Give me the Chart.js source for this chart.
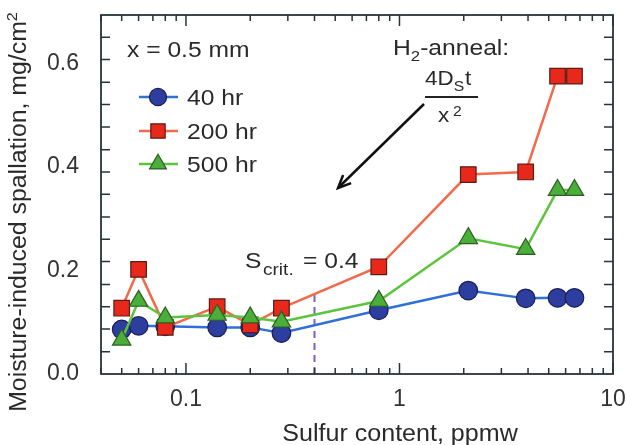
<!DOCTYPE html>
<html><head><meta charset="utf-8">
<script src="https://cdn.jsdelivr.net/npm/chart.js@4.4.0/dist/chart.umd.min.js"></script>
<style>html,body{margin:0;padding:0;background:#fff;}#wrap{width:626px;height:445px;}</style>
</head><body><div id="wrap"><canvas id="c" width="626" height="445"></canvas></div>
<script>
// ---- data ----
const sulfur   = [0.05, 0.06, 0.08, 0.14, 0.2, 0.28, 0.8, 2.1, 3.9, 5.5, 6.6];
const spall40  = [0.086, 0.093, 0.092, 0.090, 0.090, 0.079, 0.123, 0.161, 0.146, 0.147, 0.147];
const spall200 = [0.127, 0.202, 0.090, 0.130, 0.095, 0.127, 0.207, 0.385, 0.390, 0.575, 0.575];
const spall500 = [0.066, 0.141, 0.109, 0.114, 0.109, 0.101, 0.141, 0.262, 0.241, 0.355, 0.355];
const seriesNames = ['40 hr', '200 hr', '500 hr'];
const sCritX = [0.4, 0.4];
const sCritY = [0, 0.162];
const xTickValues = [0.04,0.05,0.06,0.07,0.08,0.09,0.1,0.2,0.3,0.4,0.5,0.6,0.7,0.8,0.9,1,2,3,4,5,6,7,8,9,10];
const xLabelValues = [0.1, 1, 10];
const xLabelTexts = ['0.1', '1', '10'];
const yLabelValues = [0, 0.2, 0.4, 0.6];
const yLabelTexts = ['0.0', '0.2', '0.4', '0.6'];
const yMinorTicks = [0.043,0.087,0.13,0.173,0.217,0.26,0.303,0.347,0.39,0.433,0.477,0.52,0.563,0.607,0.65];

const FONT = 'Liberation Sans, Arial, Helvetica, sans-serif';
const TXT = '#2a2a2a';
const AXC = '#26343a';

function pts(ys){ return sulfur.map((x,i)=>({x:x, y:ys[i]})); }

const styles = [
  {line:'#2f6fd6', fill:'#2d3e9e', edge:'#1a1f55', shape:'circle', r:9.3},
  {line:'#f26a4c', fill:'#e8281a', edge:'#5a1c14', shape:'rect', r:11},
  {line:'#5cc43e', fill:'#4aae38', edge:'#2c5e26', shape:'triangle', r:10.6}
];
const seriesData = [spall40, spall200, spall500];

const datasets = seriesData.map((d,i)=>({
  label: seriesNames[i], data: pts(d),
  borderColor: styles[i].line, borderWidth: 2.5,
  pointStyle: styles[i].shape, pointRadius: styles[i].r,
  pointBackgroundColor: styles[i].fill, pointBorderColor: styles[i].edge,
  pointBorderWidth: 1.2, tension: 0, order: 3 - i
}));
datasets.push({
  label: 'Scrit', data: sCritX.map((x,i)=>({x:x, y:sCritY[i]})),
  borderColor: '#7a5fd0', borderWidth: 2, borderDash: [7,5],
  pointRadius: 0, order: 5
});

function sText(ctx, text, x, y, size, sx, align){
  ctx.save();
  ctx.font = size + 'px ' + FONT;
  ctx.translate(x, y);
  ctx.scale(sx, 1);
  ctx.textAlign = align || 'left';
  ctx.fillText(text, 0, 0);
  ctx.restore();
}
function sWidth(ctx, text, size, sx){
  ctx.save(); ctx.font = size + 'px ' + FONT;
  const w = ctx.measureText(text).width * sx; ctx.restore(); return w;
}

const decor = {
  id: 'decor',
  afterDraw(chart){
    const ctx = chart.ctx, a = chart.chartArea;
    const xs = chart.scales.x, ys = chart.scales.y;
    ctx.save();
    // frame
    ctx.strokeStyle = AXC; ctx.lineWidth = 1.8;
    ctx.strokeRect(a.left, a.top, a.right - a.left, a.bottom - a.top);
    // ticks
    ctx.lineWidth = 1.5;
    ctx.beginPath();
    xTickValues.forEach(v=>{
      const p = xs.getPixelForValue(v);
      const len = xLabelValues.includes(v) ? 11 : 6;
      ctx.moveTo(p, a.bottom); ctx.lineTo(p, a.bottom - len);
      ctx.moveTo(p, a.top); ctx.lineTo(p, a.top + len);
    });
    yMinorTicks.forEach(v=>{
      const p = ys.getPixelForValue(v);
      ctx.moveTo(a.left, p); ctx.lineTo(a.left + 9, p);
      ctx.moveTo(a.right, p); ctx.lineTo(a.right - 9, p);
    });
    ctx.stroke();

    ctx.fillStyle = TXT;
    ctx.textBaseline = 'alphabetic';
    // axis titles
    sText(ctx, 'Sulfur content, ppmw', 400, 441, 23, 1.09, 'center');
    ctx.save();
    ctx.translate(26, 212); ctx.rotate(-Math.PI/2);
    const main = 'Moisture-induced spallation, mg/cm';
    const wm = sWidth(ctx, main, 23, 1.08), w2 = sWidth(ctx, '2', 15, 1.08);
    const x0 = -(wm + w2)/2;
    sText(ctx, main, x0, 0, 23, 1.08, 'left');
    sText(ctx, '2', x0 + wm, -9, 15, 1.08, 'left');
    ctx.restore();

    // x = 0.5 mm
    sText(ctx, 'x = 0.5 mm', 127, 57, 22, 1.12, 'left');
    // legend
    const rows = [97, 131, 164];
    chart.data.datasets.slice(0,3).forEach((ds,i)=>{
      const y = rows[i];
      ctx.strokeStyle = ds.borderColor; ctx.lineWidth = 2.5;
      ctx.beginPath(); ctx.moveTo(139, y); ctx.lineTo(178, y); ctx.stroke();
      ctx.fillStyle = ds.pointBackgroundColor; ctx.strokeStyle = ds.pointBorderColor;
      ctx.lineWidth = 1.2;
      Chart.helpers.drawPoint(ctx, {pointStyle: ds.pointStyle, rotation: 0,
        radius: ds.pointRadius * 0.92, borderWidth: 1.2}, 158, y);
      ctx.fillStyle = TXT;
      sText(ctx, ds.label, 187, y + 8, 22, 1.12, 'left');
    });

    // H2-anneal
    let x = 393;
    sText(ctx, 'H', x, 55, 22, 1.12); x += sWidth(ctx, 'H', 22, 1.12);
    sText(ctx, '2', x, 61, 15, 1.12); x += sWidth(ctx, '2', 15, 1.12);
    sText(ctx, '-anneal:', x, 55, 22, 1.12);
    // fraction
    x = 425;
    sText(ctx, '4D', x, 85, 20, 1.12); x += sWidth(ctx, '4D', 20, 1.12);
    sText(ctx, 'S', x, 91, 14, 1.12); x += sWidth(ctx, 'S', 14, 1.12) + 1;
    sText(ctx, 't', x, 85, 20, 1.12);
    ctx.strokeStyle = '#222'; ctx.lineWidth = 2;
    ctx.beginPath(); ctx.moveTo(425, 97); ctx.lineTo(478, 97); ctx.stroke();
    sText(ctx, 'x', 438, 122, 20, 1.12);
    sText(ctx, '2', 453, 116, 14, 1.12);
    // arrow
    const ax1 = 424, ay1 = 104, ax2 = 338, ay2 = 188;
    ctx.strokeStyle = '#111'; ctx.lineWidth = 2.5;
    ctx.beginPath(); ctx.moveTo(ax1, ay1); ctx.lineTo(ax2, ay2); ctx.stroke();
    const ang = Math.atan2(ay2 - ay1, ax2 - ax1);
    ctx.beginPath();
    ctx.moveTo(ax2 - 14*Math.cos(ang - 0.42), ay2 - 14*Math.sin(ang - 0.42));
    ctx.lineTo(ax2, ay2);
    ctx.lineTo(ax2 - 14*Math.cos(ang + 0.42), ay2 - 14*Math.sin(ang + 0.42));
    ctx.stroke();

    // S crit
    ctx.fillStyle = TXT;
    sText(ctx, 'S', 245, 268, 22, 1.12);
    sText(ctx, 'crit.', 263, 275, 17, 1.12);
    sText(ctx, '= 0.4', 303, 268, 22, 1.12);
    ctx.restore();
  }
};

new Chart(document.getElementById('c'), {
  type: 'line',
  data: { datasets: datasets },
  options: {
    responsive: false, animation: false, devicePixelRatio: 1,
    layout: { padding: { left: 0, right: 13, top: 15, bottom: 0 }, autoPadding: false },
    plugins: { legend: { display: false }, tooltip: { enabled: false } },
    scales: {
      x: {
        type: 'logarithmic', min: 0.04, max: 10,
        grid: { display: false }, border: { display: false },
        afterBuildTicks: s => { s.ticks = xTickValues.map(v => ({ value: v })); },
        afterFit: s => { s.height = 71; s.paddingLeft = 0; s.paddingRight = 0; },
        ticks: {
          autoSkip: false, maxRotation: 0, minRotation: 0, padding: 4,
          color: '#333', font: { family: FONT, size: 23 },
          callback: v => { const i = xLabelValues.indexOf(v); return i >= 0 ? xLabelTexts[i] : ''; }
        }
      },
      y: {
        type: 'linear', min: 0, max: 0.693,
        grid: { display: false }, border: { display: false },
        afterBuildTicks: s => { s.ticks = yLabelValues.map(v => ({ value: v })); },
        afterFit: s => { s.width = 101; s.paddingTop = 0; s.paddingBottom = 0; },
        ticks: {
          padding: 14, color: '#333', font: { family: FONT, size: 23 },
          callback: v => { const i = yLabelValues.indexOf(v); return i >= 0 ? yLabelTexts[i] : ''; }
        }
      }
    }
  },
  plugins: [decor]
});
</script></body></html>
